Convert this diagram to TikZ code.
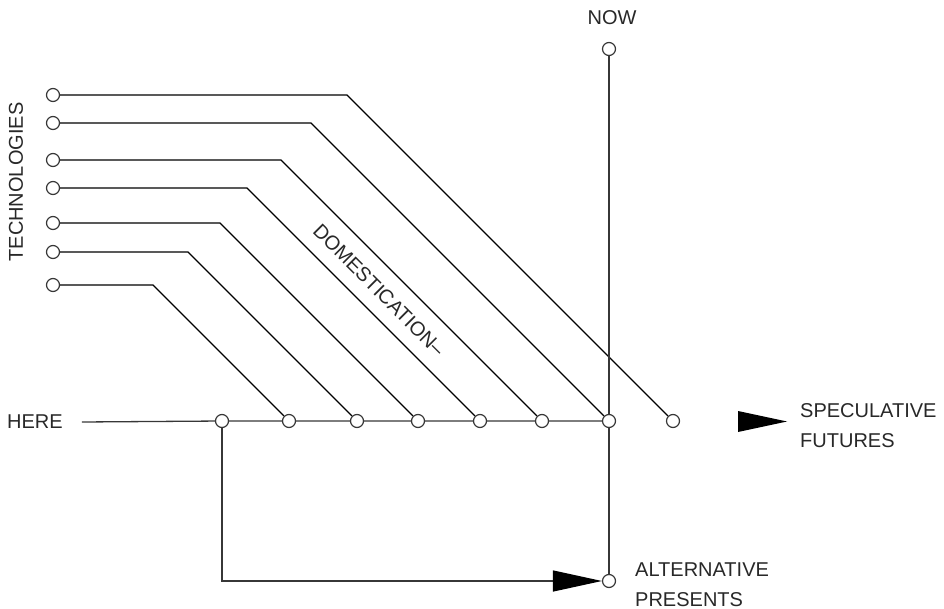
\documentclass[tikz,border=0pt]{standalone}
\usepackage{fontspec}
\setmainfont{Liberation Sans}
\usetikzlibrary{arrows.meta, calc}
\definecolor{linegray}{RGB}{55,55,55}
\definecolor{textgray}{RGB}{40,40,40}
\tikzset{
    knot/.style={draw=linegray, fill=white, circle, minimum size=13pt, inner sep=0pt, line width=1.2pt},
    wire/.style={draw=linegray, line width=1.3pt},
    diag/.style={draw=black, line width=1.1pt},
    rotulo/.style={font=\fontsize{20}{30}\selectfont, text=textgray, inner sep=0pt, align=left}
}

\begin{document}
\begin{tikzpicture}[x=1pt, y=-1pt]
    \useasboundingbox (0,0) rectangle (944,609);

    % Rotulos
    \node[rotulo] (lblnow) at (612,18) {NOW};
    \node[rotulo, rotate=90] (lbltech) at (16,182) {TECHNOLOGIES};
    \node[rotulo, anchor=west] (lblhere) at (7,422) {HERE};
    \node[rotulo, anchor=west] (lblspec) at (800,426) {SPECULATIVE\\FUTURES};
    \node[rotulo, anchor=west] (lblalt) at (635,585) {ALTERNATIVE\\PRESENTS};
    \node[rotulo, rotate=-45] (lbldom) at (379,290) {DOMESTICATION–};

    % Tecnologias (lado esquerdo)
    \node[knot] (t1) at (53,95) {};
    \node[knot] (t2) at (53,123) {};
    \node[knot] (t3) at (53,160) {};
    \node[knot] (t4) at (53,188) {};
    \node[knot] (t5) at (53,223) {};
    \node[knot] (t6) at (53,252) {};
    \node[knot] (t7) at (53,285) {};

    % Linha do presente
    \node[knot] (h1) at (222,421) {};
    \node[knot] (h2) at (289,421) {};
    \node[knot] (h3) at (357,421) {};
    \node[knot] (h4) at (418,421) {};
    \node[knot] (h5) at (480,421) {};
    \node[knot] (h6) at (542,421) {};
    \node[knot] (h7) at (609,421) {};
    \node[knot] (h8) at (673,421) {};

    % Eixo vertical
    \node[knot] (now) at (609,49) {};
    \node[knot] (alt) at (609,581) {};

    % Dobras das diagonais
    \coordinate (k1) at (347,95);
    \coordinate (k2) at (311,123);
    \coordinate (k3) at (281,160);
    \coordinate (k4) at (247,188);
    \coordinate (k5) at (220,223);
    \coordinate (k6) at (188,252);
    \coordinate (k7) at (153,285);

    % Diagonais
    \draw[diag] (t1) -- (k1) -- (h8);
    \draw[diag] (t2) -- (k2) -- (h7);
    \draw[diag] (t3) -- (k3) -- (h6);
    \draw[diag] (t4) -- (k4) -- (h5);
    \draw[diag] (t5) -- (k5) -- (h4);
    \draw[diag] (t6) -- (k6) -- (h3);
    \draw[diag] (t7) -- (k7) -- (h2);

    % Horizontal e vertical
    \draw[wire] ([xshift=19pt]lblhere.east) -- (h1) -- (h2) -- (h3) -- (h4) -- (h5) -- (h6) -- (h7);
    \draw[wire] (now) -- (h7) -- (alt);

    % Retorno para presentes alternativos
    \draw[wire, -{Triangle[length=49pt, width=21pt, color=black]}] (h1) |- (alt);

    % Seta dos futuros
    \fill[black] (738,411) -- (787,421.5) -- (738,432) -- cycle;
\end{tikzpicture}
\end{document}
